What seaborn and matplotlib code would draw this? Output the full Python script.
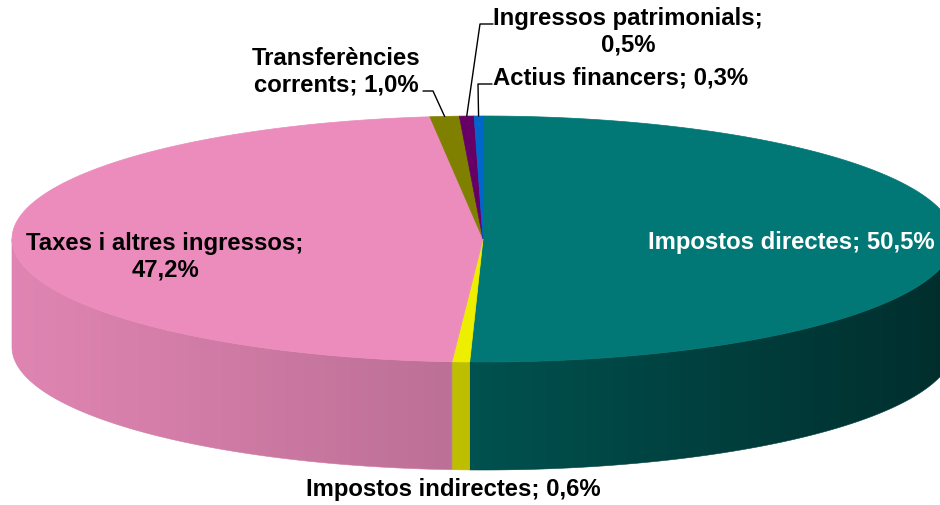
import numpy as np
import matplotlib
matplotlib.use("Agg")
import matplotlib.pyplot as plt
import seaborn as sns
from matplotlib.patches import Polygon
from matplotlib.colors import to_rgb

# -----------------------------------------------------
# DATA
# -----------------------------------------------------
categories = [
    "Impostos directes",
    "Impostos indirectes",
    "Taxes i altres ingressos",
    "Transferències corrents",
    "Ingressos patrimonials",
    "Actius financers",
]
shares = [50.5, 0.6, 47.2, 1.0, 0.5, 0.3]
pct_labels = ["50,5%", "0,6%", "47,2%", "1,0%", "0,5%", "0,3%"]

# -----------------------------------------------------
# STYLE
# -----------------------------------------------------
sns.set_theme(style="white")
plt.rcParams["font.family"] = ["Liberation Sans", "DejaVu Sans"]

top_colors = ["#017875", "#eeee00", "#ec8cbc", "#7f7f00", "#660066", "#0066cc"]
# side shading (left end factor, right end factor) per slice
side_shade = [(0.68, 0.38), (0.80, 0.80), (0.95, 0.80), (0.7, 0.7), (0.7, 0.7), (0.7, 0.7)]

# pie geometry in pixel space
cx, cy = 483, 240
ra, rb = 471, 123
depth = 108


def ell(theta):
    # theta in degrees, clockwise from 12 o'clock
    t = np.radians(theta)
    return cx + ra * np.sin(t), cy - rb * np.cos(t)


fig = plt.figure(figsize=(9.4, 5.06), dpi=100)
ax = fig.add_axes([0, 0, 1, 1])
ax.set_xlim(0, 940)
ax.set_ylim(506, 0)
ax.axis("off")

total = sum(shares)
bounds = np.concatenate([[0], np.cumsum(shares)]) / total * 360

# -----------------------------------------------------
# SIDE WALLS (front half only, horizontal gradient)
# -----------------------------------------------------
for i in range(len(shares)):
    t0, t1 = max(bounds[i], 90), min(bounds[i + 1], 270)
    if t1 <= t0:
        continue
    steps = np.linspace(t0, t1, 200)
    xs, ys = ell(steps)
    outline = list(zip(xs, ys)) + list(zip(xs[::-1], ys[::-1] + depth))
    xl, xr = xs.min(), xs.max()
    base = np.array(to_rgb(top_colors[i]))
    u = np.linspace(0, 1, 256)
    f = side_shade[i][0] + (side_shade[i][1] - side_shade[i][0]) * u
    grad = np.clip(base[None, :] * f[:, None], 0, 1)[None, :, :]
    clip = Polygon(outline, closed=True, facecolor="none", edgecolor="none")
    ax.add_patch(clip)
    im = ax.imshow(grad, extent=[xl, xr, ys.max() + depth + 1, ys.min() - 1],
                   aspect="auto", interpolation="bilinear", zorder=1)
    im.set_clip_path(clip)
    # thin edge so neighbouring sides join cleanly
    ax.add_patch(Polygon(outline, closed=True, facecolor="none",
                         edgecolor=np.clip(base * f.mean(), 0, 1), linewidth=0.4, zorder=1))

# -----------------------------------------------------
# TOP SURFACE
# -----------------------------------------------------
for i in range(len(shares)):
    steps = np.linspace(bounds[i], bounds[i + 1], max(int((bounds[i + 1] - bounds[i]) * 3), 2))
    xs, ys = ell(steps)
    pts = [(cx, cy)] + list(zip(xs, ys))
    ax.add_patch(Polygon(pts, closed=True, facecolor=top_colors[i],
                         edgecolor=top_colors[i], linewidth=0.5, zorder=2))

ax.set_xlim(0, 940)
ax.set_ylim(506, 0)

# -----------------------------------------------------
# LABELS
# -----------------------------------------------------
fs = 17.2
kw = dict(fontsize=fs, fontweight="bold", ha="center", va="center", linespacing=1.2, zorder=5)

ax.text(791, 243, f"{categories[0]}; {pct_labels[0]}", color="white", **kw)
ax.text(453, 490, f"{categories[1]}; {pct_labels[1]}", color="black", **kw)
ax.text(165, 257, "Taxes i altres ingressos;\n" + pct_labels[2], color="black", **kw)
ax.text(336, 72, "Transferències\ncorrents; " + pct_labels[3], color="black", **kw)
ax.text(628, 32, "Ingressos patrimonials;\n" + pct_labels[4], color="black", **kw)
ax.text(493, 78, f"{categories[5]}; {pct_labels[5]}", color="black",
        fontsize=fs, fontweight="bold", ha="left", va="center", zorder=5)

# leader lines from slice edge to label
mids = (bounds[:-1] + bounds[1:]) / 2
leaders = {3: [(433, 92), (423, 92)], 4: [(480, 25), (493, 25)], 5: [(478, 85), (492, 85)]}
for i, tail in leaders.items():
    ex, ey = ell(mids[i])
    xs = [ex] + [p[0] for p in tail]
    ys = [ey] + [p[1] for p in tail]
    ax.plot(xs, ys, color="black", linewidth=1.0, zorder=4)

fig.savefig("out.png", dpi=100)
